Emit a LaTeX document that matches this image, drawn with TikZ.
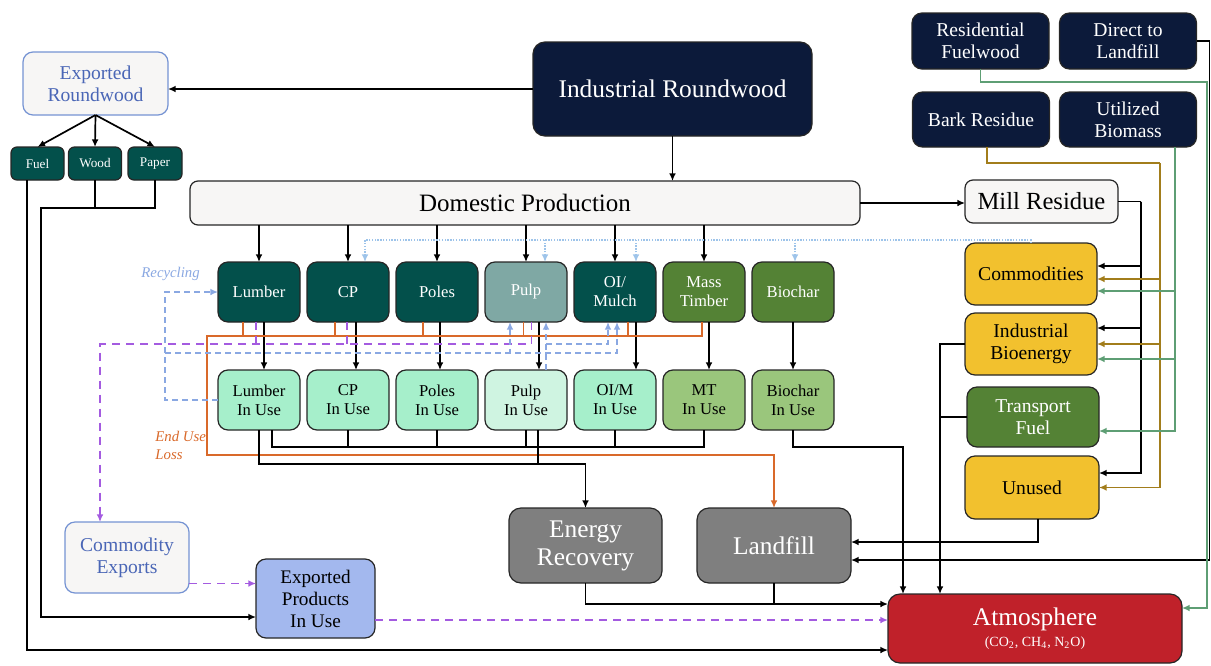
\documentclass[tikz,border=0pt]{standalone}
\usepackage{fontspec}
\setmainfont{Liberation Serif}
\usetikzlibrary{arrows.meta,positioning}

\definecolor{navy}{HTML}{0C1A3A}
\definecolor{deepteal}{HTML}{03504B}
\definecolor{pulpgray}{HTML}{7FA8A4}
\definecolor{leaf}{HTML}{548235}
\definecolor{mint}{HTML}{A6EFCB}
\definecolor{palemint}{HTML}{CFF4E1}
\definecolor{sage}{HTML}{9AC67C}
\definecolor{gold}{HTML}{F2C12E}
\definecolor{stone}{HTML}{7F7F7F}
\definecolor{brick}{HTML}{C0212A}
\definecolor{offwhite}{HTML}{F7F6F5}
\definecolor{expline}{HTML}{7593D3}
\definecolor{exptext}{HTML}{4A66B6}
\definecolor{expfill}{HTML}{A3B8EE}
\definecolor{lossorange}{HTML}{D9692A}
\definecolor{exppurple}{HTML}{A45BE0}
\definecolor{recblue}{HTML}{8AA8E2}
\definecolor{dotblue}{HTML}{9EC4EA}
\definecolor{barkgold}{HTML}{A27D1B}
\definecolor{biogreen}{HTML}{5E9E74}

\begin{document}
\begin{tikzpicture}[x=0.5pt,y=-0.5pt,node distance=3.5pt,
  >={Latex[length=3.8pt,width=3.4pt]},
  box/.style={draw=black!85,line width=0.6pt,outer sep=0pt,rounded corners=5pt,align=center,inner sep=0pt,text=white},
  prod/.style={box,minimum width=41pt,minimum height=30pt,font=\fontsize{8.3}{9.5}\selectfont},
  inuse/.style={prod,text=black},
  side/.style={box,fill=navy,minimum width=68.5pt,minimum height=28pt,font=\fontsize{9.8}{11}\selectfont},
  sink/.style={box,fill=gold,text=black,minimum width=66pt,minimum height=31pt,font=\fontsize{9.8}{11}\selectfont},
  big/.style={box,rounded corners=6pt,font=\fontsize{12.7}{14}\selectfont},
  export/.style={box,draw=expline,fill=offwhite,text=exptext,font=\fontsize{9.8}{11}\selectfont},
  tinybox/.style={box,rounded corners=3pt,fill=deepteal,minimum width=26.5pt,minimum height=16.5pt,font=\fontsize{6.6}{8}\selectfont},
  flow/.style={line width=0.85pt},
  loss/.style={flow,draw=lossorange},
  expo/.style={line width=0.95pt,draw=exppurple,dash pattern=on 4pt off 3pt},
  recyc/.style={line width=0.8pt,draw=recblue,dash pattern=on 3pt off 2pt},
  dotl/.style={line width=0.8pt,draw=dotblue,dash pattern=on 0.7pt off 0.7pt},
  resid/.style={flow,draw=barkgold},
  bio/.style={flow,draw=biogreen},
  note/.style={font=\itshape\fontsize{7.4}{9}\selectfont,align=left,inner sep=0pt,anchor=west}]
  \useasboundingbox (0,0) rectangle (1211,665);

  % roundwood and exports
  \node[big,fill=navy,minimum width=139.5pt,minimum height=47pt] (ir) at (672.5,89) {Industrial Roundwood};
  \node[export,minimum width=72.5pt,minimum height=31.5pt] (xr) at (95.5,83.5) {Exported\\Roundwood};
  \node[tinybox] (fuel) at (37.5,163.5) {Fuel};
  \node[tinybox] (wood) at (95,163.5) {Wood};
  \node[tinybox,minimum width=27pt] (paper) at (155,163.5) {Paper};
  \node[box,fill=offwhite,text=black,rounded corners=4pt,minimum width=335pt,minimum height=22pt,
        font=\fontsize{12.5}{14}\selectfont] (dp) at (525,203) {Domestic Production};
  \node[box,fill=offwhite,text=black,rounded corners=4pt,minimum width=76.5pt,minimum height=21.5pt,
        font=\fontsize{12.3}{14}\selectfont] (mill) at (1041.5,201.5) {Mill Residue};

  % residue sources
  \node[side] (rf) at (980.5,41) {Residential\\Fuelwood};
  \node[side] (dtl) at (1128,41) {Direct to\\Landfill};
  \node[side,minimum height=27.5pt] (bark) at (981,119.5) {Bark Residue};
  \node[side,minimum height=27.5pt] (ub) at (1128,119.5) {Utilized\\Biomass};

  % products
  \node[prod,fill=deepteal] (lum) at (259,292) {Lumber};
  \node[prod,fill=deepteal,right=of lum] (cp) {CP};
  \node[prod,fill=deepteal,right=of cp] (pol) {Poles};
  \node[prod,fill=pulpgray,right=of pol] (pulp) {Pulp};
  \node[prod,fill=deepteal,right=of pulp] (oim) {OI/\\Mulch};
  \node[prod,fill=leaf,right=of oim] (mt) {Mass\\Timber};
  \node[prod,fill=leaf,right=of mt] (bc) {Biochar};

  % products in use
  \node[inuse,fill=mint,below=24pt of lum] (lumu) {Lumber\\In Use};
  \node[inuse,fill=mint,below=24pt of cp] (cpu) {CP\\In Use};
  \node[inuse,fill=mint,below=24pt of pol] (polu) {Poles\\In Use};
  \node[inuse,fill=palemint,below=24pt of pulp] (pulpu) {Pulp\\In Use};
  \node[inuse,fill=mint,below=24pt of oim] (oimu) {OI/M\\In Use};
  \node[inuse,fill=sage,below=24pt of mt] (mtu) {MT\\In Use};
  \node[inuse,fill=sage,below=24pt of bc] (bcu) {Biochar\\In Use};

  % residue uses
  \node[sink] (com) at (1031,274) {Commodities};
  \node[sink,below=4pt of com] (ib) {Industrial\\Bioenergy};
  \node[sink,fill=leaf,text=white,minimum height=30pt] (tf) at (1033,417) {Transport\\Fuel};
  \node[sink,minimum width=67pt,minimum height=31.5pt] (un) at (1032,487.5) {Unused};

  % end of life
  \node[big,fill=stone,minimum width=76.5pt,minimum height=37.5pt] (enr) at (585.5,545.5) {Energy\\Recovery};
  \node[big,fill=stone,minimum width=77pt,minimum height=37.5pt] (lf) at (774,545.5) {Landfill};
  \node[big,fill=brick,minimum width=147pt,minimum height=34.5pt] (atm) at (1035,628.5)
    {Atmosphere\\[-3.5pt]{\fontsize{7}{8}\selectfont(CO\textsubscript{2}, CH\textsubscript{4}, N\textsubscript{2}O)}};
  \node[export,minimum width=62pt,minimum height=35.5pt] (cx) at (127,557.5) {Commodity\\Exports};
  \node[box,fill=expfill,text=black,minimum width=59.5pt,minimum height=39.5pt,
        font=\fontsize{9.6}{11}\selectfont] (xp) at (315.5,598.5) {Exported\\Products\\In Use};

  \node[note,text=recblue] (rlbl) at (141,274) {Recycling};
  \node[note,text=lossorange] (llbl) at (155,445) {End Use\\Loss};

  % roundwood flows
  \draw[flow,->] (ir.west) -- (ir.west -| xr.east);
  \draw[flow,->] (ir.south) -- (ir.south |- dp.north);
  \foreach \n in {fuel,wood,paper} \draw[flow,->] (xr.south) -- (\n.north);
  \draw[flow] (wood.south) -- ++(0,28);
  \draw[flow,->] (paper.south) -- ++(0,28) -- (41,208) -- (41,617) -- ([yshift=-9.25pt]xp.west);
  \draw[flow,->] ([xshift=-5.25pt]fuel.south) -- (27,650) -- ([yshift=-10.75pt]atm.west);

  % domestic production
  \foreach \n in {lum,cp,pol,pulp,oim,mt} \draw[flow,->] (dp.south -| \n) -- (\n.north);
  \draw[flow,->] (dp.east) -- (dp.east -| mill.west);
  \draw[dotl,->] (com.north) -- ++(0,-3) -| ([xshift=8.5pt]cp.north);
  \foreach \n/\s in {pulp/9.5pt,oim/10.5pt,bc/1pt} \draw[dotl,<-] ([xshift=\s]\n.north) -- ++(0,-22);

  % into use
  \foreach \n/\s in {lum/2.5pt,cp/4pt,pol/1.5pt,pulp/6.5pt,oim/10.5pt,mt/2.5pt,bc/0pt}
    \draw[flow,->] ([xshift=\s]\n.south) -- ++(0,48);

  % end use loss
  \foreach \n/\s in {lum/-8pt,cp/-6.5pt,pol/-7pt,pulp/-1.25pt,oim/6.5pt} \draw[loss] ([xshift=\s]\n.south) -- ++(0,14);
  \draw[loss,->] ([xshift=-1pt]mt.south) -- ++(0,14) -- (207,336) -- (207,455) -| (lf.north);

  % commodity exports
  \foreach \n/\s in {lum/-1.5pt,cp/-0.5pt} \draw[expo] ([xshift=\s]\n.south) -- ++(0,22);
  \draw[expo,->] ([xshift=2.75pt]pulp.south) -- ++(0,22) -- (100,344) -- ([xshift=-13.5pt]cx.north);
  \draw[expo,->] ([yshift=-13pt]cx.east) -- ++(67,0);
  \draw[expo,->] ([yshift=-10.75pt]xp.east) -- ++(513,0);

  % recycling
  \draw[recyc,->] (lumu.west) -- ++(-53,0) |- (lum.west);
  \draw[recyc,->] (165,353) -| ([xshift=1pt]oim.south);
  \draw[recyc,<-] ([xshift=-8pt]pulp.south) -- ++(0,31);
  \draw[recyc,->] ([xshift=10pt]pulpu.north) -- ++(0,-48);
  \draw[recyc,->] (546,344) -| ([xshift=-3.5pt]oim.south);

  % out of use
  \draw[flow] ([xshift=6.5pt]lumu.south) -- ++(0,17) -| (mtu.south);
  \foreach \n in {cpu,polu,pulpu,oimu} \draw[flow] (\n.south) -- ++(0,17);
  \draw[flow] ([xshift=6pt]pulpu.south) -- ++(0,34);
  \draw[flow,->] (lumu.south) -- ++(0,34) -| (enr.north);
  \draw[flow,->] (bcu.south) -- ++(0,17) -| ([xshift=-66pt]atm.north);
  \draw[flow,->] (ib.west) -| ([xshift=-47.5pt]atm.north);
  \draw[flow] (tf.west) -- ++(-27,0);
  \draw[flow,->] (enr.south) |- ([yshift=12.25pt]atm.west);
  \draw[flow] (lf.south) -- ++(0,21);
  \draw[flow,->] ([xshift=3pt]un.south) |- ([yshift=1.75pt]lf.east);
  \draw[flow,->] (dtl.east) -- ++(13,0) |- ([yshift=-7.25pt]lf.east);

  % residues
  \draw[flow] (mill.east) -- ++(23,0) coordinate (mr);
  \foreach \n/\s in {com/4pt,ib/8pt,un/7.25pt} \draw[flow,->] (mr) |- ([yshift=\s]\n.east);
  \draw[resid] ([xshift=3pt]bark.south) -- ++(0,16) -- ++(173,0) coordinate (bk);
  \foreach \n/\s in {com/-2.5pt,ib/0pt,un/0pt} \draw[resid,->] (bk) |- ([yshift=\s]\n.east);
  \draw[bio,->] (rf.south) -- ++(0,13) -- ++(226.5,0) |- ([yshift=10.25pt]atm.east);
  \foreach \n/\s in {com/-8.5pt,ib/-7.5pt,tf/-7pt} \draw[bio,->] ([xshift=23.5pt]ub.south) |- ([yshift=\s]\n.east);
\end{tikzpicture}
\end{document}
